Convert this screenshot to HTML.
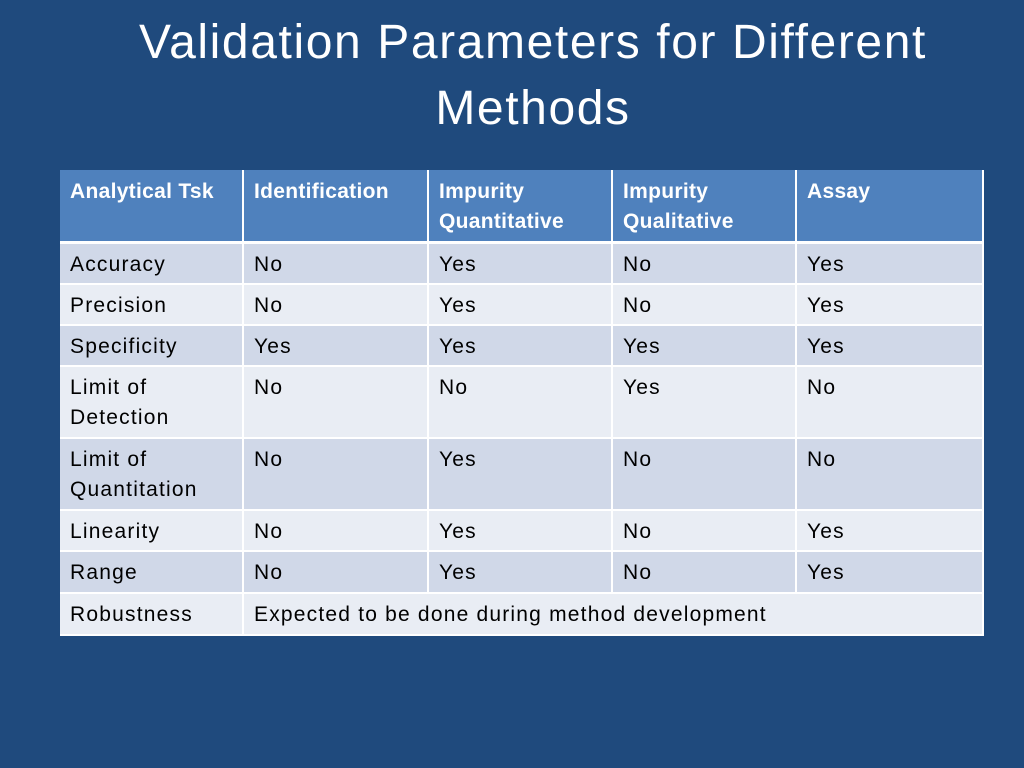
<!DOCTYPE html>
<html><head><meta charset="utf-8"><style>
body{margin:0;width:1024px;height:768px;background:#1f4a7d;font-family:"Liberation Sans",sans-serif;overflow:hidden;position:relative}
.t{position:absolute;left:0;width:1066px;top:10px;text-align:center;color:#fff;font-size:48px;line-height:66px;letter-spacing:1.6px}
.c{position:absolute;box-sizing:border-box;padding:6px 0 0 10px;font-size:21px;letter-spacing:1.2px;line-height:30px;color:#000;border-right:2px solid #fff;border-bottom:2px solid #fff}
.h{background:#4f81bd;color:#fff;font-weight:bold;letter-spacing:0.3px}
.d{background:#d0d8e8}.l{background:#e9edf4}
</style></head><body>
<div class="t">Validation Parameters for Different<br>Methods</div>
<div id="tbl"></div>
<script>
const headers=["Analytical Tsk","Identification","Impurity<br>Quantitative","Impurity<br>Qualitative","Assay"];
const rows=[
["Accuracy","No","Yes","No","Yes"],
["Precision","No","Yes","No","Yes"],
["Specificity","Yes","Yes","Yes","Yes"],
["Limit of<br>Detection","No","No","Yes","No"],
["Limit of<br>Quantitation","No","Yes","No","No"],
["Linearity","No","Yes","No","Yes"],
["Range","No","Yes","No","Yes"],
["Robustness","Expected to be done during method development"]];
const xs=[60,244,429,613,797,984];
const ys=[170,244,285,326,367,439,511,552,594,636];
const tbl=document.getElementById('tbl');
function cell(x0,x1,y0,y1,html,cls){const d=document.createElement('div');d.className='c '+cls;


d.style.left=x0+'px';d.style.top=y0+'px';d.style.width=(x1-x0)+'px';d.style.height=(y1-y0)+'px';d.innerHTML=html;tbl.appendChild(d);return d;}
headers.forEach((h,i)=>{const d=cell(xs[i],xs[i+1],ys[0],ys[1],h,'h');d.style.borderBottom='3px solid #fff';d.style.paddingTop='7px';});
rows.forEach((r,ri)=>{const cls=ri%2==0?'d':'l';
 if(r.length==2){cell(xs[0],xs[1],ys[ri+1],ys[ri+2],r[0],cls);cell(xs[1],xs[5],ys[ri+1],ys[ri+2],r[1],cls);}
 else r.forEach((v,ci)=>cell(xs[ci],xs[ci+1],ys[ri+1],ys[ri+2],v,cls));});
</script>
</body></html>
